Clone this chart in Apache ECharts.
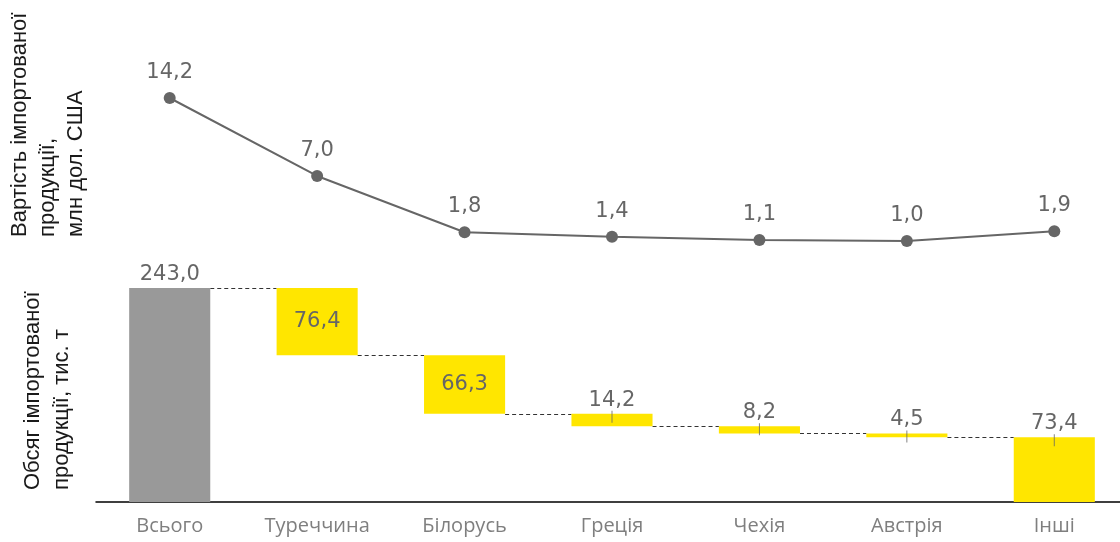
<!DOCTYPE html>
<html>
<head>
<meta charset="utf-8">
<script src="https://cdn.jsdelivr.net/npm/echarts@6/dist/echarts.min.js"></script>
<style>html,body{margin:0;padding:0;background:#fff;overflow:hidden;width:1120px;height:542px;}#c{width:1128px;height:542px;}</style>
</head>
<body>
<div id="c"></div>
<script>
const categories = ['Всього', 'Туреччина', 'Білорусь', 'Греція', 'Чехія', 'Австрія', 'Інші'];
const valueUSD = [14.2, 7.0, 1.8, 1.4, 1.1, 1.0, 1.9];
const volume = [243.0, 76.4, 66.3, 14.2, 8.2, 4.5, 73.4];
const insideLabel = [false, true, true, false, false, false, false];
const showTick = [false, false, false, true, true, true, true];
const titleTop = 'Вартість імпортованої\nпродукції,\nмлн дол. США';
const titleBottom = 'Обсяг імпортованої\nпродукції, тис. т';

// waterfall bases
const base = [];
let remaining = volume[0];
for (let i = 0; i < volume.length; i++) {
  if (i === 0 || i === volume.length - 1) { base.push(0); }
  else { remaining -= volume[i]; base.push(Math.round(remaining * 10) / 10); }
}
const tops = volume.map((v, i) => Math.round((base[i] + v) * 10) / 10);
const connectors = [];
for (let i = 0; i < volume.length - 1; i++) connectors.push([i, tops[i + 1]]);
const fmt = v => v.toFixed(1).replace('.', ',');

const GRAY = '#666666';
const YELLOW = '#FFE600';
const BAR_FRAC = 0.55;

const chart = echarts.init(document.getElementById('c'));
chart.setOption({
  animation: false,
  grid: [
    { left: 96, right: 0, top: 98, height: 153.8 },
    { left: 96, right: 0, top: 288, height: 214 }
  ],
  xAxis: [
    { type: 'category', data: categories, gridIndex: 0, show: false },
    { type: 'category', data: categories, gridIndex: 1,
      axisLine: { lineStyle: { color: '#000', width: 1.5 } },
      axisTick: { show: false },
      axisLabel: { color: '#7f7f7f', fontFamily: 'Open Sans', fontSize: 20, margin: 14 } }
  ],
  yAxis: [
    { type: 'value', gridIndex: 0, min: 0, max: 14.2, show: false },
    { type: 'value', gridIndex: 1, min: 0, max: 243, show: false }
  ],
  graphic: [
    { type: 'text', x: 47.5, y: 237, rotation: Math.PI / 2,
      style: { text: titleTop, fontFamily: 'Liberation Sans', fontSize: 22, lineHeight: 28,
        fill: '#1a1a1a', align: 'left', verticalAlign: 'middle' } },
    { type: 'text', x: 47.5, y: 490, rotation: Math.PI / 2,
      style: { text: titleBottom, fontFamily: 'Liberation Sans', fontSize: 22, lineHeight: 29,
        fill: '#1a1a1a', align: 'left', verticalAlign: 'middle' } }
  ],
  series: [
    { type: 'line', xAxisIndex: 0, yAxisIndex: 0, data: valueUSD,
      symbol: 'circle', symbolSize: 12,
      itemStyle: { color: GRAY }, lineStyle: { color: GRAY, width: 2 },
      label: { show: true, position: 'top', distance: 9, color: GRAY,
        fontFamily: 'DejaVu Sans', fontSize: 21, formatter: p => fmt(p.value) } },
    { type: 'bar', xAxisIndex: 1, yAxisIndex: 1, stack: 'w', data: base,
      barWidth: (BAR_FRAC * 100) + '%', itemStyle: { color: 'transparent' }, silent: true },
    { type: 'bar', xAxisIndex: 1, yAxisIndex: 1, stack: 'w',
      barWidth: (BAR_FRAC * 100) + '%',
      data: volume.map((v, i) => ({
        value: v,
        itemStyle: { color: i === 0 ? '#999999' : YELLOW },
        label: { position: insideLabel[i] ? 'inside' : 'top' }
      })),
      label: { show: true, color: GRAY, fontFamily: 'DejaVu Sans', fontSize: 21, distance: 3,
        formatter: p => fmt(p.value) } },
    { type: 'scatter', xAxisIndex: 1, yAxisIndex: 1,
      data: tops.map((t, i) => showTick[i] ? [i, t] : null).filter(d => d),
      symbol: 'rect', symbolSize: [1, 12], symbolOffset: [0, 3],
      itemStyle: { color: GRAY }, z: 5, silent: true },
    { type: 'custom', xAxisIndex: 1, yAxisIndex: 1, data: connectors, z: 1, silent: true,
      renderItem: function (params, api) {
        const i = api.value(0), lvl = api.value(1);
        const p1 = api.coord([i, lvl]);
        const p2 = api.coord([i + 1, lvl]);
        const half = api.size([1, 0])[0] * BAR_FRAC / 2;
        const y = Math.round(p1[1]) + 0.5;
        return { type: 'line',
          shape: { x1: p1[0] + half, y1: y, x2: p2[0] - half, y2: y },
          style: { stroke: '#333', lineWidth: 1, lineDash: [4, 3] } };
      } }
  ]
});
</script>
</body>
</html>
